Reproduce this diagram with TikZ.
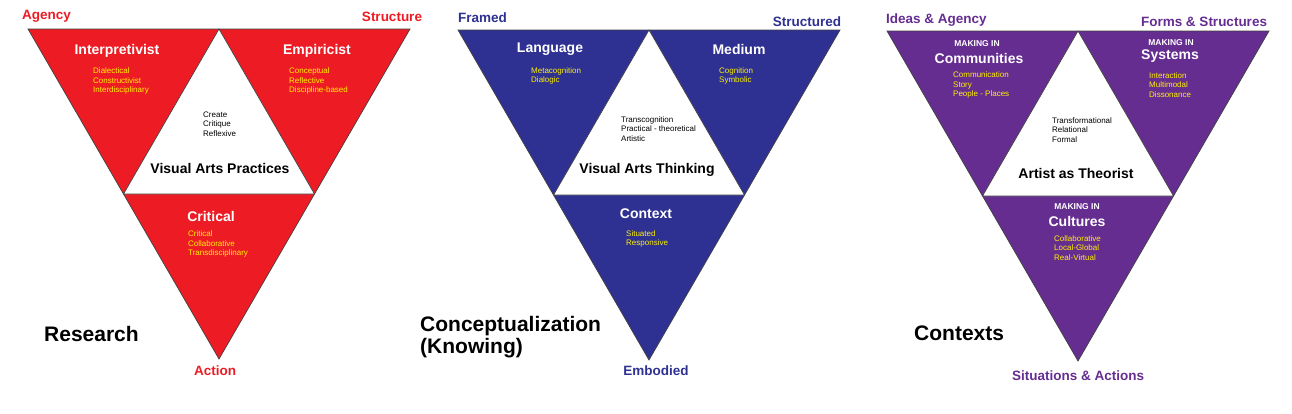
\documentclass[tikz,border=0pt]{standalone}
\usepackage{fontspec}
\setmainfont{Liberation Sans}
\usetikzlibrary{positioning, calc}

\definecolor{resred}{HTML}{ED1C24}
\definecolor{conblue}{HTML}{2E3192}
\definecolor{ctxpurple}{HTML}{662D91}
\definecolor{itemyellow}{HTML}{FFF200}

\begin{document}
\begin{tikzpicture}[
    x=1pt, y=-1pt,
    % --- Triangle Outlines ---
    tri edge/.style={
        draw=black!75,
        line width=0.7pt,
        line join=miter
    },
    % --- Corner Labels ---
    corner label/.style={
        font=\fontsize{13.5}{15}\selectfont\bfseries,
        inner sep=0pt
    },
    % --- White Titles in the Outer Triangles ---
    tri title/.style={
        font=\fontsize{14}{16}\selectfont\bfseries,
        text=white,
        inner sep=0pt
    },
    making in/.style={
        font=\fontsize{8.5}{10}\selectfont\bfseries,
        text=white,
        inner sep=0pt
    },
    % --- Word Lists ---
    item list/.style={
        font=\fontsize{8}{9.5}\selectfont,
        text=itemyellow,
        align=left,
        anchor=west,
        inner sep=0pt
    },
    inner list/.style={
        item list,
        text=black
    },
    % --- Centre and Panel Names ---
    centre title/.style={
        font=\fontsize{14}{16}\selectfont\bfseries,
        inner sep=0pt
    },
    panel name/.style={
        font=\fontsize{21}{22}\selectfont\bfseries,
        align=left,
        anchor=west,
        inner sep=0pt
    }
]

    \useasboundingbox (0,0) rectangle (1292,413);

    % =========================================
    % 0. THE THREE SPLIT TRIANGLES
    % =========================================
    \foreach \name/\col/\xl/\yt in {res/resred/28/29, con/conblue/458/30, ctx/ctxpurple/887/31} {
        \coordinate (\name TL) at (\xl,\yt);
        \coordinate (\name TR) at (\xl+382,\yt);
        \coordinate (\name B) at (\xl+191,\yt+330);
        \coordinate (\name TM) at ($(\name TL)!0.5!(\name TR)$);
        \coordinate (\name IL) at ($(\name TL)!0.5!(\name B)$);
        \coordinate (\name IR) at ($(\name TR)!0.5!(\name B)$);
        \fill[\col] (\name TL) -- (\name TR) -- (\name B) -- cycle;
        \filldraw[fill=white, tri edge] (\name TM) -- (\name IL) -- (\name IR) -- cycle;
        \draw[tri edge] (\name TL) -- (\name TR) -- (\name B) -- cycle;
    }

    % =========================================
    % 1. RESEARCH
    % =========================================
    \node[corner label, text=resred, anchor=west] (agency) at (22,16) {Agency};
    \node[corner label, text=resred] (structure) at (392,17) {Structure};

    \node[tri title] (interp) at (117,51) {Interpretivist};
    \node[item list] (interpItems) at (93,81) {Dialectical\\Constructivist\\Interdisciplinary};

    \node[tri title] (empir) at (317,51) {Empiricist};
    \node[item list] (empirItems) at (289,81) {Conceptual\\Reflective\\Discipline-based};

    \node[inner list] (practItems) at (203,124) {Create\\Critique\\Reflexive};
    \node[centre title] (practTitle) at (220,168) {Visual Arts Practices};

    \node[tri title] (critical) at (211,216) {Critical};
    \node[item list] (criticalItems) at (188,244) {Critical\\Collaborative\\Transdisciplinary};

    \node[panel name] (research) at (44,334) {Research};
    \node[corner label, text=resred] (action) at (215,371) {Action};

    % =========================================
    % 2. CONCEPTUALIZATION
    % =========================================
    \node[corner label, text=conblue, anchor=west] (framed) at (458,18) {Framed};
    \node[corner label, text=conblue] (structured) at (807,22) {Structured};

    \node[tri title] (language) at (550,49) {Language};
    \node[item list] (languageItems) at (531,76) {Metacognition\\Dialogic};

    \node[tri title] (medium) at (739,49) {Medium};
    \node[item list] (mediumItems) at (719,76) {Cognition\\Symbolic};

    \node[inner list] (thinkItems) at (621,129) {Transcognition\\Practical - theoretical\\Artistic};
    \node[centre title] (thinkTitle) at (647,170) {Visual Arts Thinking};

    \node[tri title] (context) at (646,214) {Context};
    \node[item list] (contextItems) at (626,239) {Situated\\Responsive};

    \node[panel name] (concept) at (420,337) {Conceptualization\\(Knowing)};
    \node[corner label, text=conblue] (embodied) at (656,371) {Embodied};

    % =========================================
    % 3. CONTEXTS
    % =========================================
    \node[corner label, text=ctxpurple, anchor=west] (ideas) at (886,20) {Ideas \& Agency};
    \node[corner label, text=ctxpurple] (forms) at (1204,22) {Forms \& Structures};

    \node[making in] (makeComm) at (977,44) {MAKING IN};
    \node[tri title] (communities) at (979,58) {Communities};
    \node[item list] (commItems) at (953,85) {Communication\\Story\\People - Places};

    \node[making in] (makeSys) at (1171,43) {MAKING IN};
    \node[tri title] (systems) at (1170,56) {Systems};
    \node[item list] (sysItems) at (1149,85) {Interaction\\Multimodal\\Dissonance};

    \node[inner list] (theoristItems) at (1052,130) {Transformational\\Relational\\Formal};
    \node[centre title] (theorist) at (1076,173) {Artist as Theorist};

    \node[making in] (makeCult) at (1077,207) {MAKING IN};
    \node[tri title] (cultures) at (1077,221) {Cultures};
    \node[item list] (cultItems) at (1054,248) {Collaborative\\Local-Global\\Real-Virtual};

    \node[panel name] (contexts) at (914,333) {Contexts};
    \node[corner label, text=ctxpurple] (situations) at (1078,376) {Situations \& Actions};

\end{tikzpicture}
\end{document}
